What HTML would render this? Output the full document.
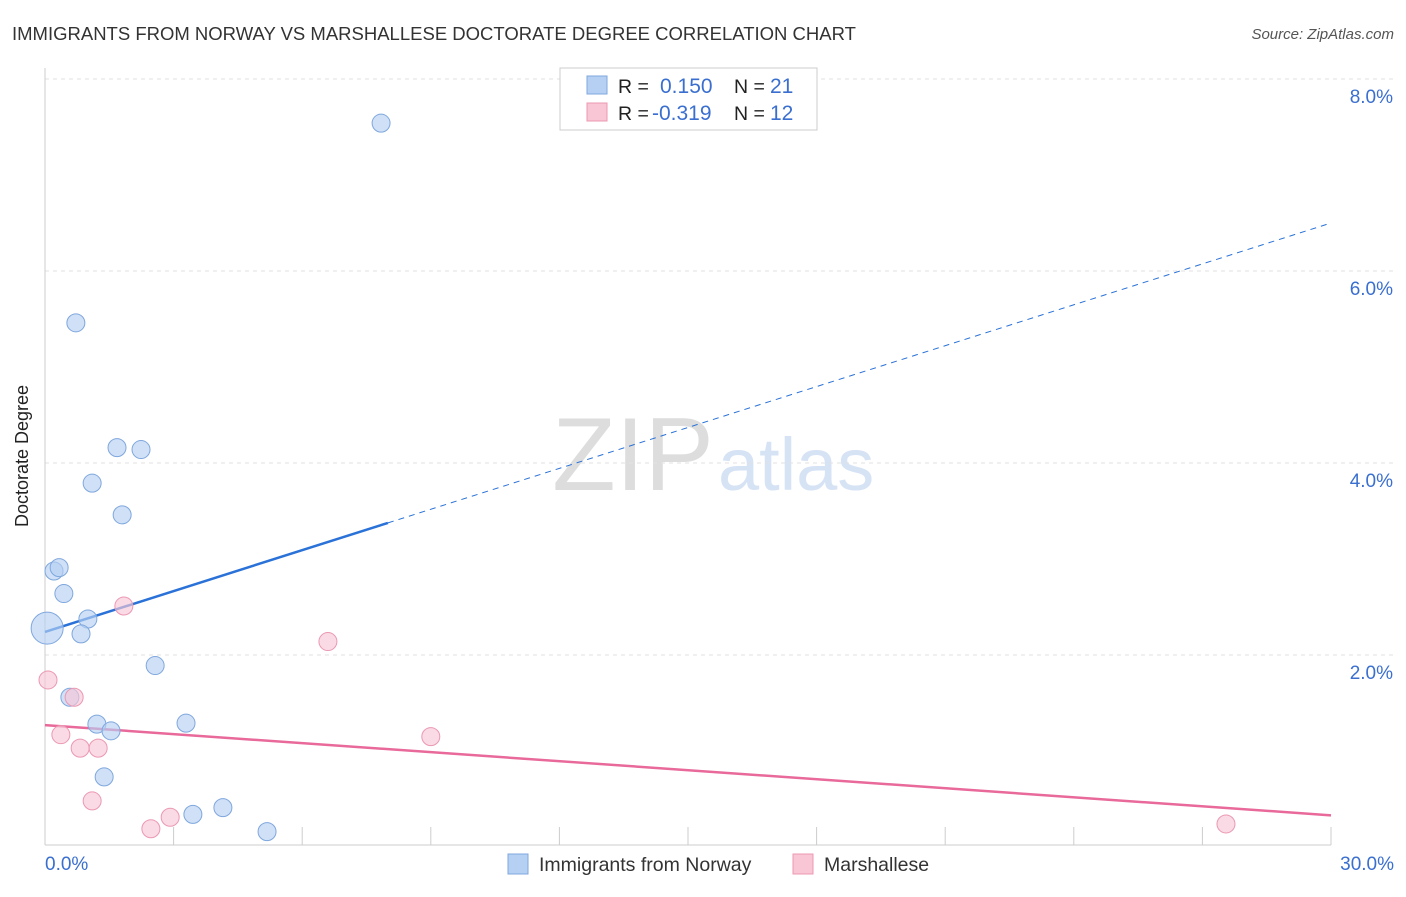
<!DOCTYPE html>
<html><head><meta charset="utf-8"><style>
body{margin:0;background:#fff;font-family:"Liberation Sans",sans-serif;}
svg text{font-family:"Liberation Sans",sans-serif;}
</style></head><body>
<svg width="1406" height="892" id="chart">
<text x="12" y="40" font-size="18.5" fill="#333">IMMIGRANTS FROM NORWAY VS MARSHALLESE DOCTORATE DEGREE CORRELATION CHART</text>
<text x="1394" y="39" font-size="15" fill="#555" text-anchor="end" font-style="italic">Source: ZipAtlas.com</text>
<text x="28" y="456" font-size="18" fill="#222" text-anchor="middle" transform="rotate(-90 28 456)">Doctorate Degree</text>
<text x="633" y="490" font-size="104" fill="#ddd" text-anchor="middle" font-family="Liberation Serif">ZIP</text>
<text x="718" y="490" font-size="74" fill="#d6e3f5">atlas</text>
<g id="grid"></g><g id="axes"></g><g id="trends"></g><g id="pts"></g>
<g>
<rect x="560" y="68" width="257" height="62" fill="#fff" stroke="#ccc"/>
<rect x="587" y="76" width="20" height="18" fill="#b6d0f3" stroke="#7fa7dd"/>
<text x="618" y="93" font-size="19.5" fill="#222">R = </text><text x="660" y="93" font-size="21" fill="#3a6fd0">0.150</text>
<text x="734" y="93" font-size="19.5" fill="#222">N = </text><text x="770" y="93" font-size="21" fill="#3a6fd0">21</text>
<rect x="587" y="103" width="20" height="18" fill="#f8c6d5" stroke="#eb98b2"/>
<text x="618" y="120" font-size="19.5" fill="#222">R = </text><text x="652" y="120" font-size="21" fill="#3a6fd0">-0.319</text>
<text x="734" y="120" font-size="19.5" fill="#222">N = </text><text x="770" y="120" font-size="21" fill="#3a6fd0">12</text>
</g>
<g>
<rect x="508" y="854" width="20" height="20" fill="#b6d0f3" stroke="#7fa7dd"/>
<text x="539" y="871" font-size="19.5" fill="#333">Immigrants from Norway</text>
<rect x="793" y="854" width="20" height="20" fill="#f8c6d5" stroke="#eb98b2"/>
<text x="824" y="871" font-size="19.5" fill="#333">Marshallese</text>
</g>
</svg>
<script>
const yTicks=[2,4,6,8];
const yTickLabels=["2.0%","4.0%","6.0%","8.0%"];
const xTicks=[0,3,6,9,12,15,18,21,24,27,30];
const norwayX=[7.84,0.72,1.68,2.24,1.10,1.80,0.21,0.33,0.44,1.00,0.84,0.05,2.57,0.58,1.21,1.54,3.29,1.38,3.45,4.15,5.18];
const norwayY=[7.54,5.46,4.16,4.14,3.79,3.46,2.875,2.91,2.64,2.375,2.22,2.28,1.89,1.56,1.28,1.21,1.29,0.73,0.34,0.41,0.16];
const marshX=[0.07,0.68,1.84,6.60,0.37,0.82,1.24,1.10,2.47,2.92,9.0,27.55];
const marshY=[1.74,1.56,2.51,2.14,1.17,1.03,1.03,0.48,0.19,0.31,1.15,0.24];
const norwayTrend=[2.24,6.5];
const marshTrend=[1.27,0.33];
const X=v=>45+v/30*1286, Y=v=>847-v*96;
const NS="http://www.w3.org/2000/svg";
function mk(p,t,a){const e=document.createElementNS(NS,t);for(const k in a)e.setAttribute(k,a[k]);document.getElementById(p).appendChild(e);return e;}
yTicks.forEach((t,i)=>{
 const l=mk('grid','line',{x1:45,x2:1394,y1:Y(t),y2:Y(t),stroke:'#e2e2e2','stroke-dasharray':'4,4'});
 
 
 const tx=mk('grid','text',{x:1393,y:Y(t)+24,'font-size':19,fill:'#3a6fd0','text-anchor':'end'});
 tx.textContent=yTickLabels[i];
 
 
});
const ax=mk('axes','line',{x1:45,x2:45,y1:68,y2:845,stroke:'#ccc'});


const bx=mk('axes','line',{x1:45,x2:1331,y1:845,y2:845,stroke:'#ccc'});


xTicks.forEach(t=>{const l=mk('axes','line',{x1:X(t),x2:X(t),y1:827,y2:845,stroke:'#ccc'});
 
 });
const x0=mk('axes','text',{x:45,y:870,'font-size':19,fill:'#3a6fd0'});x0.textContent='0.0%';


const x1=mk('axes','text',{x:1394,y:870,'font-size':19,fill:'#3a6fd0','text-anchor':'end'});x1.textContent='30.0%';


const nv=x=>norwayTrend[0]+(norwayTrend[1]-norwayTrend[0])*x/30;
let t1=mk('trends','line',{x1:X(0),y1:Y(nv(0)),x2:X(8),y2:Y(nv(8)),stroke:'#2a72d8','stroke-width':2.5});


let t2=mk('trends','line',{x1:X(8),y1:Y(nv(8)),x2:X(30),y2:Y(nv(30)),stroke:'#2a72d8','stroke-width':1,'stroke-dasharray':'6,5'});


let t3=mk('trends','line',{x1:X(0),y1:Y(marshTrend[0]),x2:X(30),y2:Y(marshTrend[1]),stroke:'#e8699a','stroke-width':2.5});


norwayX.forEach((v,i)=>{const c=mk('pts','circle',{cx:X(v),cy:Y(norwayY[i]),r:i==11?16:9,fill:'#b6d0f3','fill-opacity':0.65,stroke:'#7fa7dd'});
 
 });
marshX.forEach((v,i)=>{const c=mk('pts','circle',{cx:X(v),cy:Y(marshY[i]),r:9,fill:'#f8c6d5','fill-opacity':0.65,stroke:'#eb98b2'});
 
 });
</script>
</body></html>
